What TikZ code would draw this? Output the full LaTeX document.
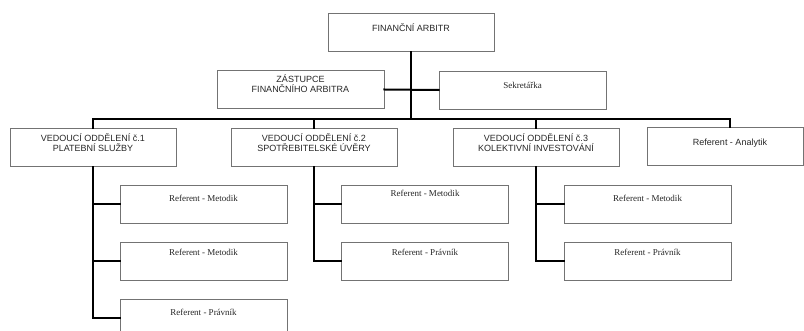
\documentclass[tikz,border=0pt]{standalone}
\usepackage{fontspec}
\setmainfont{Liberation Serif}
\setsansfont{Liberation Sans}

\tikzset{box/.style = {draw = black!55, line width = 0.9pt, minimum width = #1,
                       minimum height = 38pt, inner sep = 0pt},
         box/.default = 166pt,
         popis/.style = {anchor = center, align = center, text = black!85,
                         font = \fontsize{9}{10.5}\selectfont},
         vedouci/.style 2 args = {box, label = {[popis, font = \sffamily\fontsize{9}{10.5}\selectfont,
                                                 yshift = -#2]north:#1}},
         referent/.style 2 args = {box = 167pt, label = {[popis, yshift = -#2]north:#1}},
         spoj/.style = {line width = 2pt, line cap = rect}
        }

\begin{document}
\begin{tikzpicture}[x = 1pt, y = -1pt]
  \clip (0,0) rectangle (804,331);

  \node[vedouci = {FINANČNÍ ARBITR}{15pt}] (arbitr) at (411,32.5) {};
  \node[vedouci = {ZÁSTUPCE\\FINANČNÍHO ARBITRA}{13.5pt}, box = 167pt] (zastupce) at (300.5,89.5) {};
  \node[referent = {Sekretářka}{15pt}] (sekretarka) at (522.5,90) {};

  \node[vedouci = {VEDOUCÍ ODDĚLENÍ č.1\\PLATEBNÍ SLUŽBY}{14.5pt}] (odd1) at (93,147.5) {};
  \node[vedouci = {VEDOUCÍ ODDĚLENÍ č.2\\SPOTŘEBITELSKÉ ÚVĚRY}{14.5pt}] (odd2) at (314,147.5) {};
  \node[vedouci = {VEDOUCÍ ODDĚLENÍ č.3\\KOLEKTIVNÍ INVESTOVÁNÍ}{14.5pt}] (odd3) at (536,147.5) {};
  \node[box = 156pt, label = {[popis, font = \sffamily\fontsize{9}{10.5}\selectfont,
                              xshift = 5pt, yshift = -16pt]north:Referent - Analytik}] (analytik) at (725,146.5) {};

  \node[referent = {Referent - Metodik}{14pt}] (ref11) at (203.5,204) {};
  \node[referent = {Referent - Metodik}{10pt}] (ref12) at (203.5,261.5) {};
  \node[referent = {Referent - Právník}{14pt}] (ref13) at (203.5,318) {};
  \node[referent = {Referent - Metodik}{9pt}]  (ref21) at (425,204) {};
  \node[referent = {Referent - Právník}{10pt}] (ref22) at (425,261.5) {};
  \node[referent = {Referent - Metodik}{14pt}] (ref31) at (647.5,204) {};
  \node[referent = {Referent - Právník}{10pt}] (ref32) at (647.5,261.5) {};

  \coordinate (sbernice) at (411,119);

  \draw[spoj] (arbitr.south) -- (sbernice);
  \draw[spoj] (zastupce.east) -- (sekretarka.west);
  \draw[spoj] (odd1.north) |- (sbernice) -| ([xshift = 5pt]analytik.north);
  \foreach \odd in {odd2, odd3}
    \draw[spoj] (\odd.north) -- (\odd.north |- sbernice);

  \draw[spoj] (odd1.south) |- (ref13.west);
  \draw[spoj] (odd2.south) |- (ref22.west);
  \draw[spoj] (odd3.south) |- (ref32.west);
  \foreach \r/\odd in {ref11/odd1, ref12/odd1, ref21/odd2, ref31/odd3}
    \draw[spoj] (\r.west) -- (\r.west -| \odd.south);
\end{tikzpicture}
\end{document}
